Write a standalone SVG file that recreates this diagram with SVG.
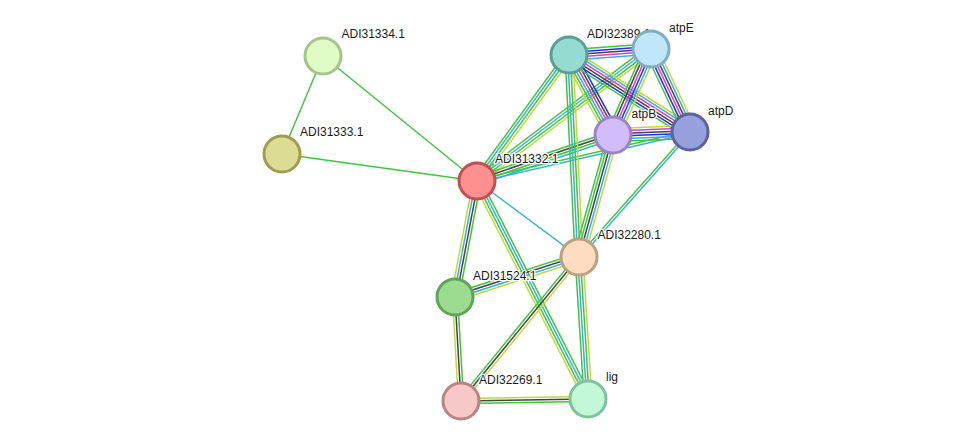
<svg xmlns="http://www.w3.org/2000/svg" width="976" height="447" viewBox="0 0 976 447">
<style>
.edge line{stroke-width:1.5;fill:none}
.g{stroke:#41c541}.k{stroke:#454545}.m{stroke:#d93ad9}.c{stroke:#3ab0d8}.y{stroke:#c0d840}.b{stroke:#2a2af0}
.node circle{stroke-width:3}
.node text{font-family:"Liberation Sans",Arial,sans-serif;font-size:12px;fill:#1a1a1a;stroke:#fff;stroke-width:2.5;stroke-linejoin:round;paint-order:stroke}
</style>
<rect width="976" height="447" fill="#fff"/>
<g id="edges" class="edge">
<g transform="translate(323 56) rotate(112.7)"><line class="g" x2="106.2"/></g>
<g transform="translate(323 56) rotate(39.07)"><line class="g" x2="198.3"/></g>
<g transform="translate(282 154) rotate(7.88)"><line class="g" x2="196.9"/></g>
<g transform="translate(477 181) rotate(36.69)"><line class="c" x2="127.2"/></g>
<g transform="translate(477 181) rotate(100.74)"><line class="y" x2="118.1" y1="3.9" y2="3.9"/><line class="c" x2="118.1" y1="1.3" y2="1.3"/><line class="k" x2="118.1" y1="-1.3" y2="-1.3"/><line class="g" x2="118.1" y1="-3.9" y2="-3.9"/></g>
<g transform="translate(477 181) rotate(63.02)"><line class="y" x2="244.6" y1="3.9" y2="3.9"/><line class="g" x2="244.6" y1="1.3" y2="1.3"/><line class="c" x2="244.6" y1="-1.3" y2="-1.3"/><line class="g" x2="244.6" y1="-3.9" y2="-3.9"/></g>
<g transform="translate(477 181) rotate(-53.87)"><line class="g" x2="156" y1="-3.9" y2="-3.9"/><line class="c" x2="156" y1="-1.3" y2="-1.3"/><line class="g" x2="156" y1="1.3" y2="1.3"/><line class="y" x2="156" y1="3.9" y2="3.9"/></g>
<g transform="translate(477 181) rotate(-37.18)"><line class="g" x2="218.4" y1="-3.9" y2="-3.9"/><line class="c" x2="218.4" y1="-1.3" y2="-1.3"/><line class="g" x2="218.4" y1="1.3" y2="1.3"/><line class="y" x2="218.4" y1="3.9" y2="3.9"/></g>
<g transform="translate(477 181) rotate(-18.69)"><line class="g" x2="143.6" y1="-3.9" y2="-3.9"/><line class="k" x2="143.6" y1="-1.3" y2="-1.3"/><line class="g" x2="143.6" y1="1.3" y2="1.3"/><line class="c" x2="143.6" y1="3.9" y2="3.9"/></g>
<g transform="translate(477 181) rotate(-12.95)"><line class="g" x2="218.6" y1="-1.3" y2="-1.3"/><line class="c" x2="218.6" y1="1.3" y2="1.3"/></g>
<g transform="translate(455 297) rotate(-17.88)"><line class="g" x2="130.3" y1="-3.9" y2="-3.9"/><line class="k" x2="130.3" y1="-1.3" y2="-1.3"/><line class="c" x2="130.3" y1="1.3" y2="1.3"/><line class="y" x2="130.3" y1="3.9" y2="3.9"/></g>
<g transform="translate(455 297) rotate(86.7)"><line class="y" x2="104.2" y1="2.6" y2="2.6"/><line class="k" x2="104.2"/><line class="g" x2="104.2" y1="-2.6" y2="-2.6"/></g>
<g transform="translate(579 257) rotate(129.33)"><line class="g" x2="186.2" y1="2.6" y2="2.6"/><line class="k" x2="186.2"/><line class="y" x2="186.2" y1="-2.6" y2="-2.6"/></g>
<g transform="translate(579 257) rotate(86.37)"><line class="g" x2="142.3" y1="3.9" y2="3.9"/><line class="c" x2="142.3" y1="1.3" y2="1.3"/><line class="g" x2="142.3" y1="-1.3" y2="-1.3"/><line class="y" x2="142.3" y1="-3.9" y2="-3.9"/></g>
<g transform="translate(461 401) rotate(-0.9)"><line class="y" x2="127" y1="-2.6" y2="-2.6"/><line class="k" x2="127"/><line class="g" x2="127" y1="2.6" y2="2.6"/></g>
<g transform="translate(569 55) rotate(87.17)"><line class="g" x2="202.2" y1="3.9" y2="3.9"/><line class="c" x2="202.2" y1="1.3" y2="1.3"/><line class="g" x2="202.2" y1="-1.3" y2="-1.3"/><line class="y" x2="202.2" y1="-3.9" y2="-3.9"/></g>
<g transform="translate(613 135) rotate(105.57)"><line class="g" x2="126.6" y1="5.2" y2="5.2"/><line class="g" x2="126.6" y1="2.6" y2="2.6"/><line class="k" x2="126.6"/><line class="c" x2="126.6" y1="-2.6" y2="-2.6"/><line class="y" x2="126.6" y1="-5.2" y2="-5.2"/></g>
<g transform="translate(690 132) rotate(131.61)"><line class="g" x2="167.2" y1="1.3" y2="1.3"/><line class="c" x2="167.2" y1="-1.3" y2="-1.3"/></g>
<g transform="translate(569 55) rotate(-4.19)"><line class="g" x2="82.2" y1="-5.2" y2="-5.2"/><line class="b" x2="82.2" y1="-2.6" y2="-2.6"/><line class="k" x2="82.2"/><line class="m" x2="82.2" y1="2.6" y2="2.6"/><line class="c" x2="82.2" y1="5.2" y2="5.2"/></g>
<g transform="translate(569 55) rotate(61.19)"><line class="y" x2="91.3" y1="6.5" y2="6.5"/><line class="g" x2="91.3" y1="3.9" y2="3.9"/><line class="c" x2="91.3" y1="1.3" y2="1.3"/><line class="m" x2="91.3" y1="-1.3" y2="-1.3"/><line class="k" x2="91.3" y1="-3.9" y2="-3.9"/><line class="b" x2="91.3" y1="-6.5" y2="-6.5"/></g>
<g transform="translate(569 55) rotate(32.47)"><line class="y" x2="143.4" y1="-6.5" y2="-6.5"/><line class="c" x2="143.4" y1="-3.9" y2="-3.9"/><line class="m" x2="143.4" y1="-1.3" y2="-1.3"/><line class="k" x2="143.4" y1="1.3" y2="1.3"/><line class="b" x2="143.4" y1="3.9" y2="3.9"/><line class="g" x2="143.4" y1="6.5" y2="6.5"/></g>
<g transform="translate(651 49) rotate(113.84)"><line class="y" x2="94" y1="-6.5" y2="-6.5"/><line class="c" x2="94" y1="-3.9" y2="-3.9"/><line class="b" x2="94" y1="-1.3" y2="-1.3"/><line class="m" x2="94" y1="1.3" y2="1.3"/><line class="k" x2="94" y1="3.9" y2="3.9"/><line class="g" x2="94" y1="6.5" y2="6.5"/></g>
<g transform="translate(651 49) rotate(64.83)"><line class="g" x2="91.7" y1="6.5" y2="6.5"/><line class="b" x2="91.7" y1="3.9" y2="3.9"/><line class="m" x2="91.7" y1="1.3" y2="1.3"/><line class="k" x2="91.7" y1="-1.3" y2="-1.3"/><line class="c" x2="91.7" y1="-3.9" y2="-3.9"/><line class="y" x2="91.7" y1="-6.5" y2="-6.5"/></g>
<g transform="translate(613 135) rotate(-2.23)"><line class="y" x2="77.1" y1="-6.5" y2="-6.5"/><line class="m" x2="77.1" y1="-3.9" y2="-3.9"/><line class="k" x2="77.1" y1="-1.3" y2="-1.3"/><line class="b" x2="77.1" y1="1.3" y2="1.3"/><line class="c" x2="77.1" y1="3.9" y2="3.9"/><line class="g" x2="77.1" y1="6.5" y2="6.5"/></g>
</g>
<g id="n-ADI31334" class="node"><circle cx="323" cy="56" r="18" fill="#e0fcc4" stroke="#a6c48a"/><text x="341.5" y="38">ADI31334.1</text></g>
<g id="n-ADI31333" class="node"><circle cx="282" cy="154" r="18" fill="#dcdc94" stroke="#9e9e50"/><text x="300" y="136">ADI31333.1</text></g>
<g id="n-ADI31332" class="node"><circle cx="477" cy="181" r="18" fill="#ff9090" stroke="#c05050"/><text x="495" y="163">ADI31332.1</text></g>
<g id="n-ADI32389" class="node"><circle cx="569" cy="55" r="18" fill="#94dcd2" stroke="#5a9e96"/><text x="587" y="37.5">ADI32389.1</text></g>
<g id="n-atpE" class="node"><circle cx="651" cy="49" r="18" fill="#c0e6fa" stroke="#80acc4"/><text x="669" y="31.5">atpE</text></g>
<g id="n-atpB" class="node"><circle cx="613" cy="135" r="18" fill="#d2bcfa" stroke="#9c84c0"/><text x="631.5" y="118">atpB</text></g>
<g id="n-atpD" class="node"><circle cx="690" cy="132" r="18" fill="#98a0dc" stroke="#5a62a0"/><text x="708" y="114.5">atpD</text></g>
<g id="n-ADI32280" class="node"><circle cx="579" cy="257" r="18" fill="#fddcc0" stroke="#bca080"/><text x="597.5" y="239">ADI32280.1</text></g>
<g id="n-ADI31524" class="node"><circle cx="455" cy="297" r="18" fill="#9cdc90" stroke="#60a458"/><text x="473" y="280">ADI31524.1</text></g>
<g id="n-ADI32269" class="node"><circle cx="461" cy="401" r="18" fill="#f8c8c8" stroke="#b88484"/><text x="479" y="383.5">ADI32269.1</text></g>
<g id="n-lig" class="node"><circle cx="588" cy="399" r="18" fill="#c0f8d8" stroke="#80c0a0"/><text x="606" y="381">lig</text></g>
</svg>
